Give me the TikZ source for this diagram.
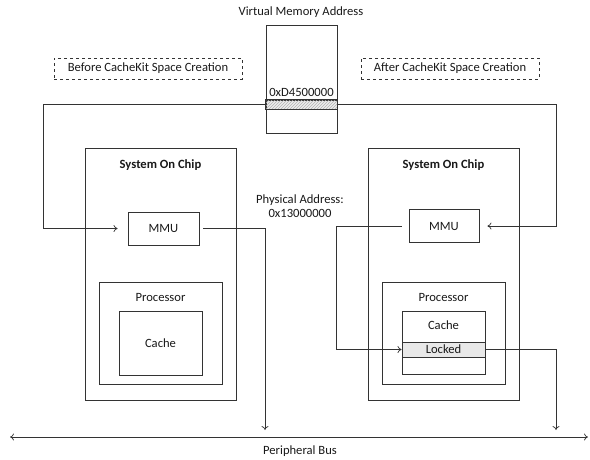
\documentclass[tikz,border=0pt]{standalone}
\usepackage{fontspec}
\setmainfont{Carlito}
\usetikzlibrary{arrows.meta,patterns}
\begin{document}
\begin{tikzpicture}[x=1pt,y=-1pt,
  every node/.style={font=\fontsize{12.6}{14}\selectfont, text=black!90},
  box/.style={draw=black!80, line width=0.9pt, inner sep=0pt},
  dbox/.style={draw=black!80, line width=0.7pt, dashed, inner sep=0pt},
  conn/.style={draw=black!80, line width=0.7pt},
  arr/.style={conn, -{To[length=4pt,width=7pt]}},
  lbl/.style={inner sep=0pt}
]
\useasboundingbox (0,0) rectangle (590,459);
% virtual memory
\node[lbl] (vmtitle) at (301,12) {Virtual Memory Address};
\node[box, minimum width=71pt, minimum height=108pt] (vm) at (301.5,79) {};
\node[box, fill=gray!15, minimum width=71pt, minimum height=9pt] (band) at (301.5,104.5) {};
\fill[pattern=north east lines, pattern color=gray!60] (band.south west) rectangle (band.north east);
\draw[black!80, line width=0.9pt] (band.south west) rectangle (band.north east);
\node[lbl, anchor=south] (vaddr) at ([yshift=3pt]band.north) {0xD4500000};
% dashed labels
\node[dbox, minimum width=188pt, minimum height=21pt] (before) at (148,68.5) {Before CacheKit Space Creation};
\node[dbox, minimum width=178pt, minimum height=21pt] (after) at (450,68.5) {After CacheKit Space Creation};
% left SoC
\node[box, minimum width=151pt, minimum height=252pt] (lsoc) at (160.5,274) {};
\node[lbl, font=\fontsize{12.6}{14}\selectfont\bfseries] (lsoct) at (160.5,165) {System On Chip};
\node[box, minimum width=71pt, minimum height=33pt] (lmmu) at (163.5,228.5) {MMU};
\node[box, minimum width=123pt, minimum height=102pt] (lproc) at (160.5,333) {};
\node[lbl] (lproct) at (160.5,297) {Processor};
\node[box, minimum width=83pt, minimum height=64pt] (lcache) at (160.5,343) {Cache};
% right SoC
\node[box, minimum width=151pt, minimum height=252pt] (rsoc) at (443.5,274) {};
\node[lbl, font=\fontsize{12.6}{14}\selectfont\bfseries] (rsoct) at (443.5,165) {System On Chip};
\node[box, minimum width=70pt, minimum height=33pt] (rmmu) at (444,226) {MMU};
\node[box, minimum width=123pt, minimum height=102pt] (rproc) at (443.5,333) {};
\node[lbl] (rproct) at (443.5,297) {Processor};
\node[box, minimum width=83pt, minimum height=63pt] (rcache) at (443.5,342.5) {};
\node[lbl] (rcachet) at (443.5,325) {Cache};
\node[box, fill=gray!18, minimum width=83pt, minimum height=15pt] (locked) at (443.5,349.5) {Locked};
% physical address
\node[lbl, align=center, font=\fontsize{12.6}{14.5}\selectfont] (paddr) at (300,206) {Physical Address:\\0x13000000};
% bus
\coordinate (busl) at (10,437);
\coordinate (busr) at (588,437);
\draw[conn, {To[length=4pt,width=7pt]}-{To[length=4pt,width=7pt]}] (busl) -- (busr);
\node[lbl] (bust) at (300,451) {Peripheral Bus};
% connectors
\coordinate (lin) at ([xshift=-10pt]lmmu.west);
\coordinate (rin) at ([xshift=8pt]rmmu.east);
\draw[arr] (band.west) -- (43,104.5) |- (lin);
\draw[arr] (band.east) -- (556,104.5) |- (rin);
\coordinate (lout) at ([xshift=4pt]lmmu.east);
\coordinate (lbus) at (265,430);
\draw[arr] (lout) -| (lbus);
\coordinate (rout) at ([xshift=-7pt]rmmu.west);
\draw[arr] (rout) -- (336,226) |- (locked.west);
\coordinate (rbus) at (556,430);
\draw[arr] (locked.east) -| (rbus);
\end{tikzpicture}
\end{document}
